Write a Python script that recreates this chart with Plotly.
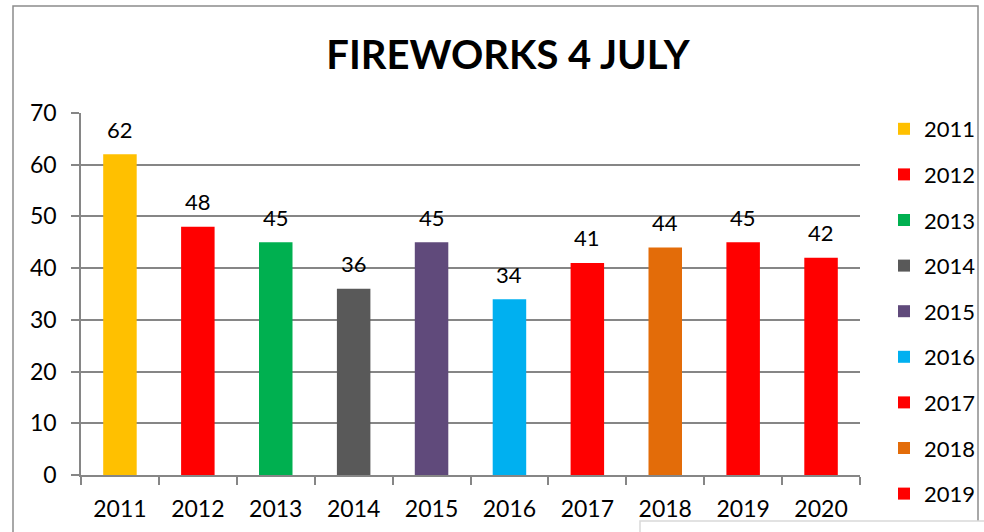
import plotly.graph_objects as go

years = ["2011", "2012", "2013", "2014", "2015", "2016", "2017", "2018", "2019", "2020"]
values = [62, 48, 45, 36, 45, 34, 41, 44, 45, 42]
colors = ["#FFC000", "#FF0000", "#00B050", "#595959", "#604A7B",
          "#00B0F0", "#FF0000", "#E36C09", "#FF0000", "#FF0000"]
y_ticks = [0, 10, 20, 30, 40, 50, 60, 70]

FONT = "Lato"
L, R, T, B = 81, 124, 113, 57
W, H = 984, 532
pw, ph = W - L - R, H - T - B

def px_x(x):
    return (x - L) / pw

def px_y(y):
    return (H - B - y) / ph

fig = go.Figure()
for i, (yr, v, c) in enumerate(zip(years, values, colors)):
    fig.add_trace(go.Bar(
        x=[yr], y=[v], name=yr, legendgroup=yr,
        marker=dict(color=c, line=dict(width=0)),
        showlegend=(yr != "2020"),
    ))
    # data label above each bar (category index i on the category axis)
    fig.add_annotation(x=i, y=v, xref="x", yref="y", text=str(v),
                       showarrow=False, yanchor="middle", yshift=25,
                       font=dict(family=FONT, size=22, color="#000000"))

fig.update_layout(
    width=W, height=H,
    margin=dict(l=L, r=R, t=T, b=B, pad=0, autoexpand=False),
    paper_bgcolor="white", plot_bgcolor="white",
    bargap=0.57,
    title=dict(text="<b>FIREWORKS 4 JULY</b>", x=508 / W, xanchor="center",
               y=1 - 55 / H, yanchor="middle",
               font=dict(family=FONT, size=40, color="#000000")),
    legend=dict(x=px_x(884), xanchor="left", y=px_y(108), yanchor="top",
                font=dict(family=FONT, size=22, color="#000000"),
                tracegroupgap=14, itemwidth=30, bgcolor="rgba(0,0,0,0)",
                maxheight=600),
    font=dict(family=FONT, color="#000000"),
)
fig.update_xaxes(
    type="category", categoryorder="array", categoryarray=years,
    range=[-0.5, len(years) - 0.5],
    showline=True, linecolor="#868686", linewidth=1.5,
    ticks="outside", ticklen=8, tickcolor="#868686", tickwidth=1.5,
    tickson="boundaries",
    tickfont=dict(family=FONT, size=23, color="#000000"),
    ticklabelstandoff=13,
    showgrid=False, zeroline=False,
)
fig.update_yaxes(
    range=[0, 70], tickvals=y_ticks, ticktext=[str(t) for t in y_ticks],
    showline=True, linecolor="#868686", linewidth=1.5,
    ticks="outside", ticklen=8, tickcolor="#868686", tickwidth=1.5,
    showgrid=True, gridcolor="#868686", gridwidth=1.5,
    zeroline=False,
    tickfont=dict(family=FONT, size=23, color="#000000"),
    ticklabelstandoff=10,
)

# chart frame
fig.add_shape(type="rect", xref="paper", yref="paper",
              x0=px_x(13), x1=px_x(978), y0=px_y(545), y1=px_y(6),
              line=dict(color="#8C8C8C", width=1.5), fillcolor="rgba(0,0,0,0)",
              layer="below")
# partial box at bottom right
fig.add_shape(type="rect", xref="paper", yref="paper",
              x0=px_x(640), x1=px_x(1000), y0=px_y(545), y1=px_y(521),
              line=dict(color="#D9D9D9", width=1.5), fillcolor="white")

fig.write_html("out.html", config={"displayModeBar": False},
               post_script="document.body.style.margin='0';document.body.style.overflow='hidden';")
